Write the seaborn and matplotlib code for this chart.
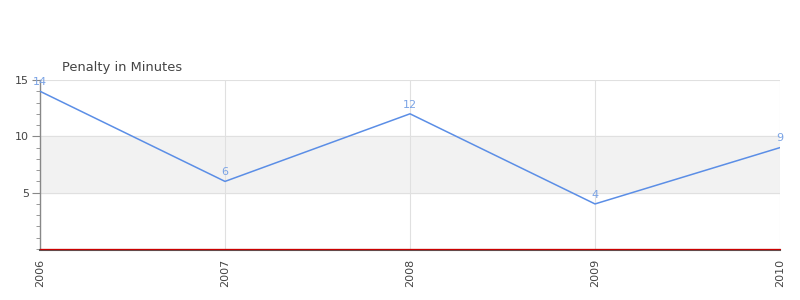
import matplotlib
matplotlib.use("Agg")
import matplotlib.pyplot as plt
import seaborn as sns
import pandas as pd
from matplotlib.ticker import MultipleLocator

years = [2006, 2007, 2008, 2009, 2010]
penalty = [14, 6, 12, 4, 9]
year_labels = ["2006", "2007", "2008", "2009", "2010"]
title = "Penalty in Minutes"

df = pd.DataFrame({"year": years, "pim": penalty})

sns.set_style("white")
plt.rcParams['font.family'] = ['DejaVu Sans']

fig = plt.figure(figsize=(8, 3), dpi=100)
ax = fig.add_axes([0.05, 0.17, 0.925, 0.5633])

for s in ["top", "right"]:
    ax.spines[s].set_visible(False)
ax.spines["left"].set_color("#888888")
ax.spines["left"].set_linewidth(1)
ax.spines["bottom"].set_color("#555555")
ax.spines["bottom"].set_linewidth(1.5)
ax.spines["bottom"].set_position(("outward", 1))

line_color = "#5b8ee6"
ax.axhspan(5, 10, color="#f2f2f2", zorder=0)
for y in [5, 10, 15]:
    ax.axhline(y, color="#e0e0e0", lw=0.8, zorder=1)
for x in years:
    ax.axvline(x, color="#e0e0e0", lw=0.8, zorder=1)

sns.lineplot(data=df, x="year", y="pim", ax=ax, color=line_color, lw=1.1, zorder=3)
ax.axhline(0, color="#cc0000", lw=0.9, zorder=4, clip_on=False)

for x, v in zip(years, penalty):
    ax.annotate(str(v), (x, v), xytext=(0, 3), textcoords="offset points",
                ha="center", va="bottom", fontsize=8, color="#7aa3e5", zorder=5)

ax.set_xlim(2006, 2010)
ax.set_ylim(0, 15)
ax.set_xticks(years)
ax.set_xticklabels(year_labels, rotation=90, fontsize=8, color="#444444")
ax.set_yticks([5, 10, 15])
ax.set_yticklabels(["5", "10", "15"], fontsize=8, color="#444444")
ax.yaxis.set_minor_locator(MultipleLocator(1))
ax.tick_params(axis="y", which="major", length=6, color="#888888", left=True, pad=2)
ax.tick_params(axis="y", which="minor", length=3, color="#888888", left=True)
ax.tick_params(axis="x", length=0, pad=6)
ax.set_xlabel("")
ax.set_ylabel("")

fig.text(62 / 800, 1 - 67 / 300, title, fontsize=9.4, color="#444444", va="center", ha="left")

fig.savefig("out.png", dpi=100)
